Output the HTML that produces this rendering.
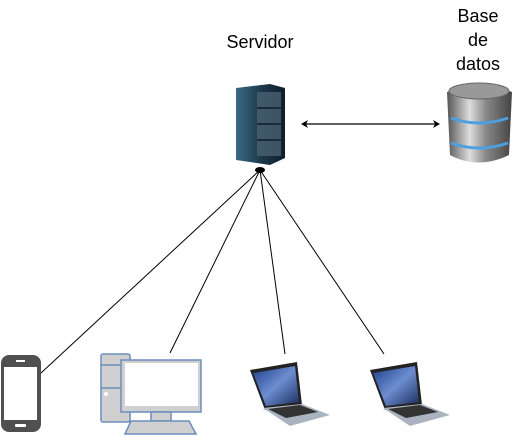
<!DOCTYPE html><html><head><style>body{margin:0;background:#fff;width:521px;height:436px;overflow:hidden}</style></head><body>
<svg width="521" height="436" xmlns="http://www.w3.org/2000/svg" font-family="Liberation Sans, sans-serif">
<defs>
<linearGradient id="sv" x1="0" x2="1"><stop offset="0" stop-color="#3a6a85"/><stop offset="0.5" stop-color="#1d3a4d"/><stop offset="1" stop-color="#0d1e2a"/></linearGradient>
<linearGradient id="db" x1="0" x2="1"><stop offset="0" stop-color="#555"/><stop offset="0.35" stop-color="#ddd"/><stop offset="0.6" stop-color="#888"/><stop offset="1" stop-color="#444"/></linearGradient>
<linearGradient id="scr" x1="0" y1="0" x2="1" y2="1"><stop offset="0" stop-color="#1d3f8a"/><stop offset="0.5" stop-color="#6d8dd0"/><stop offset="1" stop-color="#1a2d60"/></linearGradient>
</defs>
<text x="260" y="48" font-size="18" text-anchor="middle">Servidor</text>
<text x="478" y="22" font-size="18" text-anchor="middle">Base</text>
<text x="478" y="46" font-size="18" text-anchor="middle">de</text>
<text x="478" y="70" font-size="18" text-anchor="middle">datos</text>
<polygon points="236,88 270,84 285,88 285,158 270,165 236,160" fill="url(#sv)"/>
<rect x="257" y="92" width="24" height="64" fill="#4a6070" opacity="0.8"/>
<g stroke="#0d1e2a" stroke-width="1.5"><line x1="257" y1="108" x2="281" y2="108"/><line x1="257" y1="124" x2="281" y2="124"/><line x1="257" y1="140" x2="281" y2="140"/></g>
<path d="M447,92 Q478,78 512,92 L509,155 Q478,170 450,155 Z" fill="url(#db)"/>
<ellipse cx="479" cy="91" rx="30" ry="8" fill="#999" stroke="#666"/>
<path d="M451,118 Q479,128 508,118" stroke="#4aa0e0" stroke-width="3" fill="none"/>
<path d="M451,143 Q479,153 508,143" stroke="#4aa0e0" stroke-width="3" fill="none"/>
<line x1="304" y1="124" x2="437" y2="124" stroke="#000" stroke-width="1.2"/>
<polygon points="301,124 308,120 306,124 308,128"/><polygon points="440,124 433,120 435,124 433,128"/>
<g stroke="#000" stroke-width="1" fill="none">
<line x1="260" y1="170" x2="41" y2="373"/><line x1="260" y1="170" x2="170" y2="353"/>
<line x1="260" y1="170" x2="285" y2="354"/><line x1="260" y1="170" x2="384" y2="354"/></g>
<ellipse cx="260" cy="170" rx="5" ry="3"/>
<rect x="1" y="355" width="40" height="77" rx="8" fill="#505050"/>
<rect x="4" y="367" width="33" height="53" fill="#fff"/>
<rect x="16" y="360" width="9" height="2" fill="#fff"/><rect x="15" y="424" width="11" height="3" rx="1" fill="#fff"/>
<g stroke="#6c8ebf" stroke-width="1.5">
<rect x="101" y="354" width="29" height="68" rx="2" fill="#d0d0d0"/>
<line x1="101" y1="365" x2="130" y2="365"/><line x1="101" y1="388" x2="130" y2="388"/>
<rect x="121" y="360" width="80" height="52" fill="#d0d0d0"/>
<rect x="151" y="412" width="20" height="9" fill="#d0d0d0"/>
<polygon points="131,421 189,421 196,434 125,434" fill="#d0d0d0"/></g>
<rect x="125" y="363" width="73" height="43" fill="#fff"/>
<circle cx="106" cy="394" r="2" fill="#fff"/>
<g id="lp"><polygon points="250,370 297,362 302,405 265,410" fill="#222"/>
<polygon points="253,373 295,366 299,402 266,406" fill="url(#scr)"/>
<polygon points="263,408 302,404 330,415 290,426" fill="#aab4c0"/>
<polygon points="268,409 300,405 318,412 286,418" fill="#333"/></g>
<use href="#lp" x="120"/>
</svg></body></html>
